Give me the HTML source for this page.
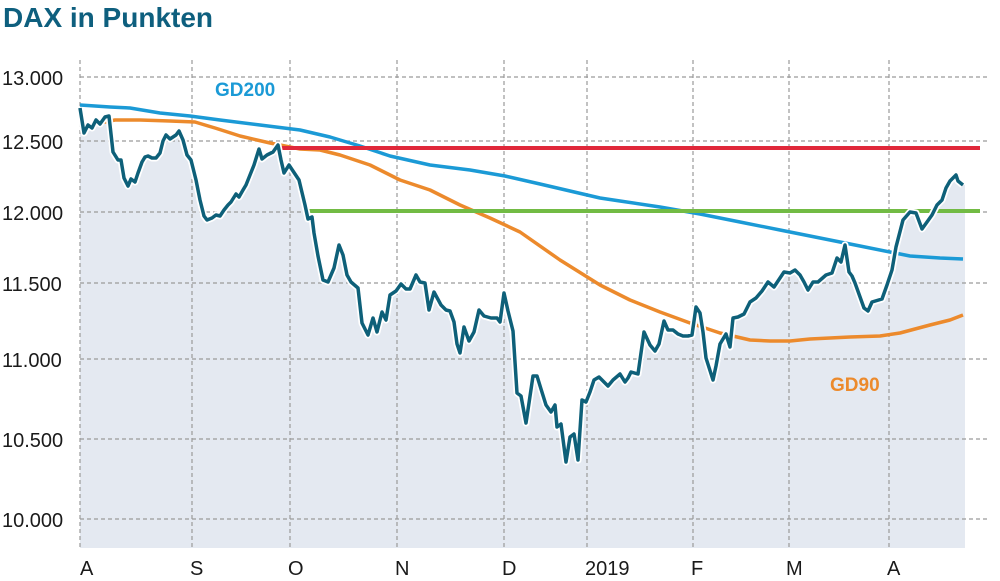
<!DOCTYPE html>
<html><head><meta charset="utf-8"><style>
html,body{margin:0;padding:0;background:#fff;}
svg{display:block;font-family:"Liberation Sans","DejaVu Sans",sans-serif;}
</style></head><body>
<svg width="1000" height="581" viewBox="0 0 1000 581">
<text x="3" y="27" font-size="28" font-weight="bold" fill="#0e5f7e">DAX in Punkten</text>
<polygon fill="#e4e9f1" points="80,548 80,108 84,133 88,125 92,128 96,120 100,124 105,117 109,116 113,152 118,160 121,160 124,178 128,186 131,179 135,182 138,173 142,162 145,157 148,156 152,158 156,158 160,153 163,141 166,135 170,139 176,135 179,131 183,140 187,155 191,160 196,180 200,200 204,216 207,220 212,218 216,215 220,216 224,210 228,205 231,202 236,194 239,197 243,190 246,185 250,175 254,165 259,149 262,159 267,155 273,152 278,145 281,160 284,173 289,165 299,180 305,205 308,219 312,217 314,233 318,256 323,280 328,282 334,268 339,245 343,255 347,275 351,282 358,288 362,323 368,335 373,318 377,332 382,312 386,320 390,295 396,291 401,284 406,289 410,289 416,275 420,282 425,283 429,310 434,292 441,305 446,310 450,311 454,322 457,344 460,353 464,327 469,341 474,332 479,310 484,316 491,318 497,318 500,322 504,293 508,311 513,331 517,393 521,396 526,423 529,403 533,376 537,376 541,389 546,405 551,412 555,405 557,427 561,424 566,462 570,437 574,434 578,460 582,400 586,402 590,392 594,380 599,377 604,382 608,386 613,380 620,374 625,382 628,378 631,372 638,374 644,332 650,345 655,351 659,344 664,321 668,330 673,330 678,334 683,336 688,336 692,335 696,307 700,313 703,332 706,358 713,380 716,366 720,344 726,334 730,347 733,318 738,317 744,314 750,302 756,298 762,291 768,282 774,287 778,281 784,272 790,273 795,270 800,275 804,282 808,290 813,282 818,282 826,275 832,273 837,258 841,262 845,245 849,272 852,276 855,283 864,308 868,311 872,302 882,299 887,285 892,270 896,247 903,220 910,212 916,213 922,229 927,222 932,215 937,205 942,200 946,188 950,181 956,175 958,181 963,185 965,185 965,548"/>
<g stroke="#9a9a9a" stroke-width="1.2" stroke-dasharray="4,3" fill="none">
<line x1="80" y1="77" x2="988" y2="77"/><line x1="80" y1="141" x2="988" y2="141"/><line x1="80" y1="212" x2="988" y2="212"/><line x1="80" y1="283" x2="988" y2="283"/><line x1="80" y1="359" x2="988" y2="359"/><line x1="80" y1="439" x2="988" y2="439"/><line x1="80" y1="519" x2="988" y2="519"/>
<line x1="80" y1="60" x2="80" y2="548"/><line x1="192" y1="60" x2="192" y2="548"/><line x1="290" y1="60" x2="290" y2="548"/><line x1="397" y1="60" x2="397" y2="548"/><line x1="504" y1="60" x2="504" y2="548"/><line x1="587" y1="60" x2="587" y2="548"/><line x1="693" y1="60" x2="693" y2="548"/><line x1="789" y1="60" x2="789" y2="548"/><line x1="889" y1="60" x2="889" y2="548"/>
</g>
<g font-size="20" fill="#1a1a1a">
<text x="2" y="85">13.000</text><text x="2" y="149">12.500</text><text x="2" y="220">12.000</text><text x="2" y="291">11.500</text><text x="2" y="367">11.000</text><text x="2" y="447">10.500</text><text x="2" y="527">10.000</text>
<text x="80" y="575">A</text><text x="190" y="575">S</text><text x="288" y="575">O</text><text x="395" y="575">N</text><text x="502" y="575">D</text><text x="585" y="575">2019</text><text x="691" y="575">F</text><text x="786" y="575">M</text><text x="887" y="575">A</text>
</g>
<polyline fill="none" stroke="#1b9ad6" stroke-width="3.5" stroke-linejoin="round" points="80,105 110,107 130,108 160,113 190,116 220,120 260,125 300,130 330,137 360,146 390,156 430,165 470,170 505,176 540,184 570,191 600,198 620,201 660,207 700,214 740,222 780,230 820,238 860,246 890,252 910,256 940,258 963,259"/>
<polyline fill="none" stroke="#ec8a2c" stroke-width="3.5" stroke-linejoin="round" points="80,127 100,123 115,120 140,120 170,121 195,122 215,128 240,136 270,143 300,149 320,150 340,155 370,165 400,180 430,190 460,205 490,218 520,232 560,260 600,285 630,300 660,312 690,323 720,333 750,340 770,341 790,341 810,339 850,337 880,336 900,333 930,325 950,320 963,315"/>
<line x1="273" y1="148" x2="980" y2="148" stroke="#e0283a" stroke-width="4"/>
<line x1="305" y1="211" x2="980" y2="211" stroke="#72bb44" stroke-width="4"/>
<polyline fill="none" stroke="#fff" stroke-width="7" stroke-linejoin="round" points="80,108 84,133 88,125 92,128 96,120 100,124 105,117 109,116 113,152 118,160 121,160 124,178 128,186 131,179 135,182 138,173 142,162 145,157 148,156 152,158 156,158 160,153 163,141 166,135 170,139 176,135 179,131 183,140 187,155 191,160 196,180 200,200 204,216 207,220 212,218 216,215 220,216 224,210 228,205 231,202 236,194 239,197 243,190 246,185 250,175 254,165 259,149 262,159 267,155 273,152 278,145 281,160 284,173 289,165 299,180 305,205 308,219 312,217 314,233 318,256 323,280 328,282 334,268 339,245 343,255 347,275 351,282 358,288 362,323 368,335 373,318 377,332 382,312 386,320 390,295 396,291 401,284 406,289 410,289 416,275 420,282 425,283 429,310 434,292 441,305 446,310 450,311 454,322 457,344 460,353 464,327 469,341 474,332 479,310 484,316 491,318 497,318 500,322 504,293 508,311 513,331 517,393 521,396 526,423 529,403 533,376 537,376 541,389 546,405 551,412 555,405 557,427 561,424 566,462 570,437 574,434 578,460 582,400 586,402 590,392 594,380 599,377 604,382 608,386 613,380 620,374 625,382 628,378 631,372 638,374 644,332 650,345 655,351 659,344 664,321 668,330 673,330 678,334 683,336 688,336 692,335 696,307 700,313 703,332 706,358 713,380 716,366 720,344 726,334 730,347 733,318 738,317 744,314 750,302 756,298 762,291 768,282 774,287 778,281 784,272 790,273 795,270 800,275 804,282 808,290 813,282 818,282 826,275 832,273 837,258 841,262 845,245 849,272 852,276 855,283 864,308 868,311 872,302 882,299 887,285 892,270 896,247 903,220 910,212 916,213 922,229 927,222 932,215 937,205 942,200 946,188 950,181 956,175 958,181 963,185"/>
<polyline fill="none" stroke="#0e6079" stroke-width="3.5" stroke-linejoin="round" points="80,108 84,133 88,125 92,128 96,120 100,124 105,117 109,116 113,152 118,160 121,160 124,178 128,186 131,179 135,182 138,173 142,162 145,157 148,156 152,158 156,158 160,153 163,141 166,135 170,139 176,135 179,131 183,140 187,155 191,160 196,180 200,200 204,216 207,220 212,218 216,215 220,216 224,210 228,205 231,202 236,194 239,197 243,190 246,185 250,175 254,165 259,149 262,159 267,155 273,152 278,145 281,160 284,173 289,165 299,180 305,205 308,219 312,217 314,233 318,256 323,280 328,282 334,268 339,245 343,255 347,275 351,282 358,288 362,323 368,335 373,318 377,332 382,312 386,320 390,295 396,291 401,284 406,289 410,289 416,275 420,282 425,283 429,310 434,292 441,305 446,310 450,311 454,322 457,344 460,353 464,327 469,341 474,332 479,310 484,316 491,318 497,318 500,322 504,293 508,311 513,331 517,393 521,396 526,423 529,403 533,376 537,376 541,389 546,405 551,412 555,405 557,427 561,424 566,462 570,437 574,434 578,460 582,400 586,402 590,392 594,380 599,377 604,382 608,386 613,380 620,374 625,382 628,378 631,372 638,374 644,332 650,345 655,351 659,344 664,321 668,330 673,330 678,334 683,336 688,336 692,335 696,307 700,313 703,332 706,358 713,380 716,366 720,344 726,334 730,347 733,318 738,317 744,314 750,302 756,298 762,291 768,282 774,287 778,281 784,272 790,273 795,270 800,275 804,282 808,290 813,282 818,282 826,275 832,273 837,258 841,262 845,245 849,272 852,276 855,283 864,308 868,311 872,302 882,299 887,285 892,270 896,247 903,220 910,212 916,213 922,229 927,222 932,215 937,205 942,200 946,188 950,181 956,175 958,181 963,185"/>
<text x="215" y="96" font-size="19" font-weight="bold" fill="#1b9ad6">GD200</text>
<text x="830" y="391" font-size="19" font-weight="bold" fill="#ec8a2c">GD90</text>
</svg>
</body></html>
